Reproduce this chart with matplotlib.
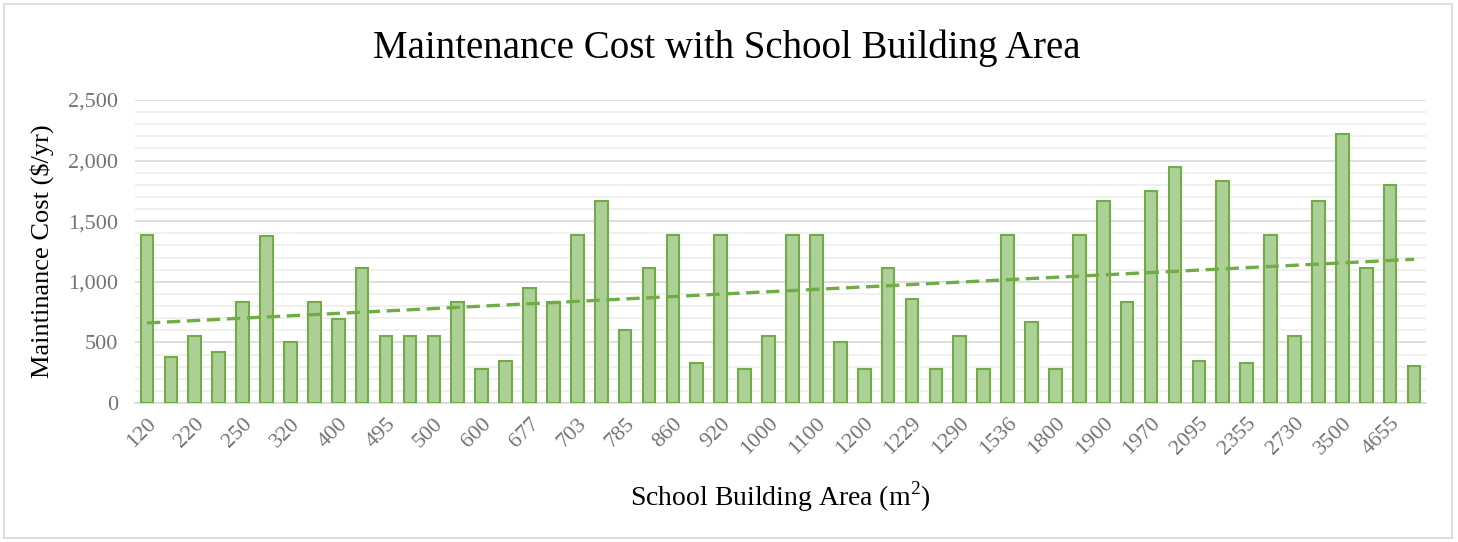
import numpy as np
import matplotlib
matplotlib.use("Agg")
import matplotlib.pyplot as plt
from matplotlib.patches import Rectangle
from matplotlib.ticker import MultipleLocator, FuncFormatter

plt.rcParams["font.family"] = ["Liberation Serif", "DejaVu Serif"]
plt.rcParams["mathtext.fontset"] = "custom"
plt.rcParams["mathtext.rm"] = "Liberation Serif"

# one bar per school, in order of building area (m2)
cost = [1390, 380, 556, 417, 833, 1375, 500, 833, 695, 1110,
        556, 556, 556, 833, 280, 350, 950, 833, 1390, 1667,
        600, 1110, 1390, 330, 1390, 280, 556, 1390, 1390, 500,
        280, 1110, 860, 280, 556, 280, 1390, 665, 280, 1390,
        1667, 833, 1750, 1945, 350, 1835, 330, 1390, 556, 1667,
        2220, 1110, 1800, 306]

# Excel only shows every second category label
area_labels = ["120", "220", "250", "320", "400", "495", "500", "600", "677",
               "703", "785", "860", "920", "1000", "1100", "1200", "1229",
               "1290", "1536", "1800", "1900", "1970", "2095", "2355", "2730",
               "3500", "4655"]

x = np.arange(len(cost))

fig = plt.figure(figsize=(14.58, 5.42), dpi=100)
ax = fig.add_axes([135 / 1458, 1 - 403 / 542, (1426 - 135) / 1458, (403 - 100) / 542])

fig.patches.append(Rectangle((4 / 1458, 4 / 542), 1448 / 1458, 534 / 542,
                             transform=fig.transFigure, fill=False,
                             edgecolor="#D9D9D9", linewidth=1.2))

ax.bar(x, cost, width=0.53, color="#ADD096", edgecolor="#70AD47",
       linewidth=1.5, zorder=3)

# linear trendline
k, b = np.polyfit(x, cost, 1)
ax.plot([x[0], x[-1]], [k * x[0] + b, k * x[-1] + b], color="#70AD47",
        linewidth=2.4, dashes=(4, 2), zorder=4)

ax.set_xlim(-0.5, len(cost) - 0.5)
ax.set_ylim(0, 2500)
ax.yaxis.set_major_locator(MultipleLocator(500))
ax.yaxis.set_minor_locator(MultipleLocator(100))
ax.yaxis.set_major_formatter(FuncFormatter(lambda v, p: f"{int(v):,}"))
ax.grid(axis="y", which="major", color="#D9D9D9", linewidth=1.2, zorder=0)
ax.grid(axis="y", which="minor", color="#EDEDED", linewidth=1.2, zorder=0)
ax.set_axisbelow(True)

ax.set_xticks(x[::2])
ax.set_xticklabels(area_labels, rotation=45, ha="right", va="top",
                   rotation_mode="anchor")
ax.tick_params(axis="both", which="both", length=0, labelsize=16,
               labelcolor="#737373")
ax.tick_params(axis="x", pad=8)
ax.tick_params(axis="y", pad=12)

for s in ["top", "right", "left"]:
    ax.spines[s].set_visible(False)
ax.spines["bottom"].set_color("#D9D9D9")
ax.spines["bottom"].set_linewidth(1.2)

ax.set_ylabel("Maintinance Cost ($/yr)", fontsize=19, color="black", labelpad=10)
fig.text(780 / 1458, 1 - 497 / 542, "School Building Area (m$^{2}$)",
         fontsize=20, ha="center", va="center")
fig.text(727 / 1458, 1 - 48 / 542, "Maintenance Cost with School Building Area",
         fontsize=28, ha="center", va="center")

fig.savefig("out.png", dpi=100)
